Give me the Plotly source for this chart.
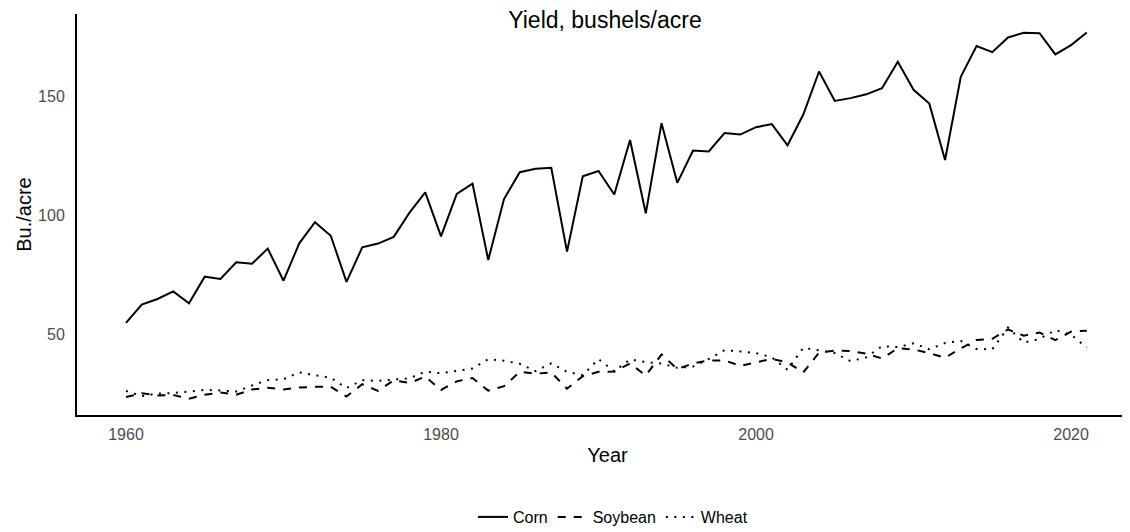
import plotly.graph_objects as go

years = list(range(1960, 2022))
corn = [54.7, 62.4, 64.7, 67.9, 62.9, 74.1, 73.1, 80.1, 79.5, 85.9,
        72.4, 88.1, 97.0, 91.3, 71.9, 86.4, 88.0, 90.8, 101.0, 109.5,
        91.0, 108.9, 113.2, 81.1, 106.7, 118.0, 119.4, 119.8, 84.6, 116.3,
        118.5, 108.6, 131.5, 100.7, 138.6, 113.5, 127.1, 126.7, 134.4, 133.8,
        136.9, 138.2, 129.3, 142.2, 160.3, 147.9, 149.1, 150.7, 153.3, 164.4,
        152.6, 146.8, 123.1, 158.1, 171.0, 168.4, 174.6, 176.6, 176.4, 167.5,
        171.4, 176.7]
soybean = [23.5, 25.1, 24.2, 24.4, 22.8, 24.5, 25.4, 24.5, 26.7, 27.4,
           26.7, 27.5, 27.8, 27.8, 23.7, 28.9, 26.1, 30.6, 29.4, 32.1,
           26.5, 30.1, 31.5, 26.2, 28.1, 34.1, 33.3, 33.9, 27.0, 32.3,
           34.1, 34.2, 37.6, 32.6, 41.4, 35.3, 37.6, 38.9, 38.9, 36.6,
           38.1, 39.6, 38.0, 33.9, 42.2, 43.0, 42.9, 41.7, 39.7, 44.0,
           43.5, 42.0, 40.0, 44.0, 47.5, 48.0, 51.9, 49.3, 50.6, 47.4,
           51.0, 51.4]
wheat = [26.1, 23.9, 25.0, 25.2, 25.8, 26.5, 26.3, 25.8, 28.4, 30.6,
         31.0, 33.9, 32.7, 31.6, 27.3, 30.6, 30.3, 30.7, 31.4, 34.2,
         33.5, 34.5, 35.5, 39.4, 38.8, 37.5, 34.4, 37.7, 34.1, 32.7,
         39.5, 34.3, 39.3, 38.2, 37.6, 35.8, 36.3, 39.5, 43.2, 42.7,
         42.0, 40.2, 35.0, 44.2, 43.2, 42.0, 38.6, 40.2, 44.9, 44.5,
         46.1, 43.6, 46.2, 47.1, 43.7, 43.6, 52.7, 46.4, 47.9, 51.7,
         49.7, 44.3]
x_ticks = [1960, 1980, 2000, 2020]
y_ticks = [50, 100, 150]

series = [("Corn", corn, "solid"), ("Soybean", soybean, "8px,8px"), ("Wheat", wheat, "2px,6.5px")]

fig = go.Figure()
for name, vals, dash in series:
    fig.add_trace(go.Scatter(x=years, y=vals, mode="lines", name=name,
                             line=dict(color="black", width=2, dash=dash)))

W, H = 1130, 532
font_family = "Liberation Sans, Arial, sans-serif"
fig.update_layout(
    width=W, height=H,
    margin=dict(l=69, r=0, t=6, b=125, autoexpand=False),
    plot_bgcolor="white", paper_bgcolor="white",
    font=dict(family=font_family, color="black"),
    showlegend=True,
    legend=dict(orientation="h", xref="container", yref="container",
                x=605 / W, y=1 - 509 / H, xanchor="center", yanchor="middle",
                font=dict(size=16, color="black"), itemwidth=30),
    title=dict(text="Yield, bushels/acre", xref="container", yref="container",
               x=597 / W, y=1 - 12 / H, xanchor="center", yanchor="middle",
               font=dict(size=23, color="black")),
)
fig.update_xaxes(range=[1956.89, 2024.25], tickvals=x_ticks,
                 showgrid=False, zeroline=False, showline=True, linecolor="black",
                 linewidth=2, ticks="outside", ticklen=4, tickcolor="rgba(0,0,0,0)",
                 tickfont=dict(size=16, color="#4d4d4d"),
                 title=dict(text="Year", font=dict(size=20, color="black"), standoff=6))
fig.update_yaxes(range=[15.97, 184.45], tickvals=y_ticks,
                 showgrid=False, zeroline=False, showline=True, linecolor="black",
                 linewidth=2, ticks="outside", ticklen=7, tickcolor="rgba(0,0,0,0)",
                 tickfont=dict(size=16, color="#4d4d4d"),
                 title=dict(text="Bu./acre", font=dict(size=20, color="black"), standoff=1))

fig.write_html("out.html")
